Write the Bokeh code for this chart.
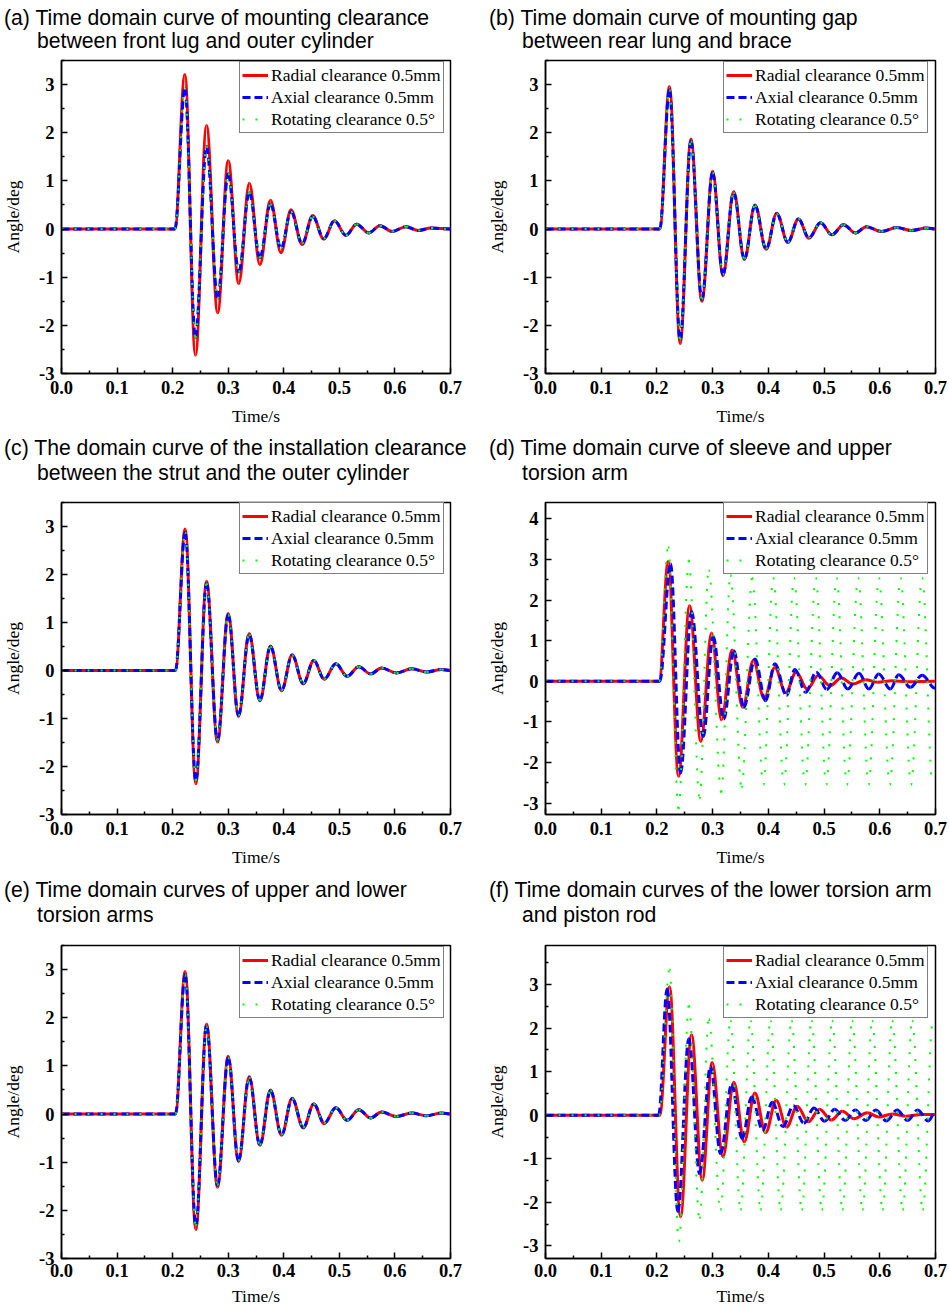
import numpy as np
from bokeh.plotting import figure
from bokeh.models import ColumnDataSource, FixedTicker, Legend, LegendItem, Div
from bokeh.layouts import column, row
from bokeh.embed import file_html
from bokeh.resources import INLINE

# ---------------- ticks / labels ----------------
x_ticks = [0.0, 0.1, 0.2, 0.3, 0.4, 0.5, 0.6, 0.7]
x_tick_labels = ["0.0", "0.1", "0.2", "0.3", "0.4", "0.5", "0.6", "0.7"]
y_ticks_std = [-3, -2, -1, 0, 1, 2, 3]
y_tick_labels_std = ["-3", "-2", "-1", "0", "1", "2", "3"]
y_ticks_d = [-3, -2, -1, 0, 1, 2, 3, 4]
y_tick_labels_d = ["-3", "-2", "-1", "0", "1", "2", "3", "4"]

series_names = ["Radial clearance 0.5mm", "Axial clearance 0.5mm", "Rotating clearance 0.5\u00b0"]

titles = [
    ("(a) Time domain curve of mounting clearance", "between front lug and outer cylinder"),
    ("(b) Time domain curve of mounting gap", "between rear lung and brace"),
    ("(c) The domain curve of the installation clearance", "between the strut and the outer cylinder"),
    ("(d) Time domain curve of sleeve and upper", "torsion arm"),
    ("(e) Time domain curves of upper and lower", "torsion arms"),
    ("(f) Time domain curves of the lower torsion arm", "and piston rod"),
]

# ---------------- data (turning points) ----------------
# Panel (a)
a_t = [0.0, 0.204, 0.222, 0.241, 0.261, 0.281, 0.300, 0.319, 0.338, 0.357, 0.376, 0.395, 0.413,
       0.433, 0.452, 0.472, 0.491, 0.512, 0.531, 0.553, 0.573, 0.595, 0.620, 0.642, 0.665, 0.700]
a_radial = [0.0, 0.0, 3.21, -2.62, 2.15, -1.74, 1.42, -1.13, 0.95, -0.74, 0.60, -0.49, 0.40,
            -0.32, 0.28, -0.21, 0.17, -0.13, 0.10, -0.08, 0.07, -0.05, 0.05, -0.03, 0.02, 0.0]
a_axial = [0.0, 0.0, 2.93, -2.26, 1.72, -1.44, 1.15, -0.89, 0.76, -0.59, 0.52, -0.40, 0.36,
           -0.30, 0.26, -0.20, 0.17, -0.13, 0.10, -0.08, 0.07, -0.05, 0.05, -0.03, 0.02, 0.0]
a_rotating = [0.0, 0.0, 2.93, -2.26, 1.72, -1.44, 1.15, -0.89, 0.76, -0.59, 0.52, -0.40, 0.36,
              -0.30, 0.26, -0.20, 0.17, -0.13, 0.10, -0.08, 0.07, -0.05, 0.05, -0.03, 0.02, 0.0]

# Panel (b)
b_t = [0.0, 0.205, 0.2225, 0.2417, 0.261, 0.2807, 0.300, 0.3185, 0.3377, 0.357, 0.376, 0.396, 0.415,
       0.435, 0.454, 0.4727, 0.4937, 0.514, 0.535, 0.556, 0.576, 0.603, 0.630, 0.657, 0.684, 0.700]
b_radial = [0.0, 0.0, 2.96, -2.38, 1.87, -1.50, 1.20, -0.97, 0.78, -0.63, 0.50, -0.42, 0.33,
            -0.28, 0.21, -0.19, 0.13, -0.12, 0.09, -0.08, 0.05, -0.05, 0.03, -0.03, 0.02, 0.0]
b_axial = [0.0, 0.0, 2.89, -2.30, 1.83, -1.46, 1.17, -0.95, 0.76, -0.62, 0.49, -0.41, 0.32,
           -0.27, 0.21, -0.18, 0.13, -0.12, 0.09, -0.08, 0.05, -0.05, 0.03, -0.03, 0.02, 0.0]
b_rotating = [0.0, 0.0, 2.89, -2.30, 1.83, -1.46, 1.17, -0.95, 0.76, -0.62, 0.49, -0.41, 0.32,
              -0.27, 0.21, -0.18, 0.13, -0.12, 0.09, -0.08, 0.05, -0.05, 0.03, -0.03, 0.02, 0.0]

# Panel (c)
c_t = [0.0, 0.205, 0.2225, 0.2417, 0.261, 0.2807, 0.300, 0.3185, 0.3377, 0.357, 0.376, 0.396, 0.415,
       0.435, 0.454, 0.4727, 0.4937, 0.514, 0.535, 0.556, 0.576, 0.603, 0.630, 0.657, 0.684, 0.700]
c_radial = [0.0, 0.0, 2.95, -2.36, 1.86, -1.49, 1.19, -0.96, 0.77, -0.63, 0.51, -0.42, 0.33,
            -0.28, 0.21, -0.18, 0.14, -0.12, 0.08, -0.07, 0.05, -0.05, 0.035, -0.03, 0.02, 0.0]
c_axial = [0.0, 0.0, 2.88, -2.29, 1.82, -1.45, 1.16, -0.94, 0.75, -0.62, 0.50, -0.41, 0.32,
           -0.27, 0.21, -0.18, 0.14, -0.12, 0.08, -0.07, 0.05, -0.05, 0.035, -0.03, 0.02, 0.0]
c_rotating = [0.0, 0.0, 2.88, -2.29, 1.82, -1.45, 1.16, -0.94, 0.75, -0.62, 0.50, -0.41, 0.32,
              -0.27, 0.21, -0.18, 0.14, -0.12, 0.08, -0.07, 0.05, -0.05, 0.035, -0.03, 0.02, 0.0]

# Panel (d)
d_t_radial = [0.0, 0.204, 0.2202, 0.2388, 0.2585, 0.2789, 0.298, 0.316, 0.335, 0.354, 0.373, 0.3926,
              0.4117, 0.431, 0.450, 0.4698, 0.4895, 0.5105, 0.531, 0.5518, 0.5745, 0.5955, 0.622,
              0.650, 0.700]
d_radial = [0.0, 0.0, 2.95, -2.34, 1.86, -1.48, 1.19, -0.95, 0.77, -0.64, 0.51, -0.43,
            0.34, -0.28, 0.22, -0.19, 0.14, -0.11, 0.08, -0.07, 0.04, -0.025, 0.01,
            -0.01, 0.0]
d_t_axial = [0.0, 0.205, 0.2244, 0.2424, 0.2621, 0.2831, 0.301, 0.320, 0.338, 0.356, 0.376, 0.395,
             0.4117, 0.4327, 0.4476, 0.4668, 0.486, 0.505, 0.5236, 0.5428, 0.5625, 0.5805, 0.598,
             0.619, 0.634, 0.655, 0.676, 0.699]
d_axial = [0.0, 0.0, 2.89, -2.26, 1.72, -1.36, 1.10, -0.93, 0.75, -0.64, 0.55, -0.48,
           0.43, -0.35, 0.29, -0.27, 0.22, -0.20, 0.21, -0.19, 0.20, -0.19, 0.18,
           -0.19, 0.16, -0.15, 0.15, -0.17]
d_t_rotating = [0.0, 0.204, 0.2202, 0.2388, 0.2573, 0.2765, 0.293, 0.3154, 0.332, 0.352, 0.371, 0.391,
                0.4088, 0.428, 0.446, 0.466, 0.485, 0.504, 0.5225, 0.541, 0.5613, 0.580, 0.5984,
                0.618, 0.6373, 0.656, 0.676, 0.695]
d_rotating = [0.0, 0.0, 3.31, -3.14, 2.97, -2.89, 2.74, -2.73, 2.62, -2.62, 2.55, -2.55,
              2.55, -2.55, 2.55, -2.55, 2.55, -2.55, 2.55, -2.55, 2.55, -2.55, 2.55,
              -2.55, 2.55, -2.55, 2.55, -2.55]

# Panel (e)
e_t = [0.0, 0.205, 0.2225, 0.2417, 0.261, 0.2807, 0.300, 0.3185, 0.3377, 0.357, 0.376, 0.396, 0.415,
       0.435, 0.454, 0.4727, 0.4937, 0.514, 0.535, 0.556, 0.576, 0.603, 0.630, 0.657, 0.684, 0.700]
e_radial = [0.0, 0.0, 2.96, -2.40, 1.87, -1.52, 1.20, -0.99, 0.78, -0.65, 0.50, -0.44, 0.33,
            -0.29, 0.21, -0.20, 0.13, -0.13, 0.09, -0.08, 0.04, -0.05, 0.02, -0.035, 0.02, 0.0]
e_axial = [0.0, 0.0, 2.89, -2.32, 1.83, -1.48, 1.17, -0.97, 0.76, -0.64, 0.49, -0.43, 0.32,
           -0.28, 0.21, -0.19, 0.13, -0.13, 0.09, -0.08, 0.04, -0.05, 0.02, -0.035, 0.02, 0.0]
e_rotating = [0.0, 0.0, 2.89, -2.32, 1.83, -1.48, 1.17, -0.97, 0.76, -0.64, 0.49, -0.43, 0.32,
              -0.28, 0.21, -0.19, 0.13, -0.13, 0.09, -0.08, 0.04, -0.05, 0.02, -0.035, 0.02, 0.0]

# Panel (f)
f_t_radial = [0.0, 0.205, 0.2226, 0.2424, 0.2621, 0.2813, 0.2992, 0.3184, 0.3381, 0.3567, 0.3758,
              0.395, 0.4141, 0.4327, 0.4518, 0.4716, 0.4919, 0.5129, 0.5326, 0.5536, 0.5775,
              0.5984, 0.6224, 0.646, 0.676, 0.700]
f_radial = [0.0, 0.0, 2.95, -2.33, 1.85, -1.49, 1.21, -0.95, 0.76, -0.61, 0.51,
            -0.40, 0.34, -0.27, 0.21, -0.15, 0.14, -0.11, 0.09, -0.08, 0.06,
            -0.04, 0.03, -0.02, 0.02, 0.015]
f_t_axial = [0.0, 0.203, 0.2184, 0.2376, 0.2573, 0.2765, 0.2962, 0.3142, 0.334, 0.3531, 0.370, 0.390,
             0.407, 0.426, 0.445, 0.464, 0.482, 0.501, 0.519, 0.538, 0.556, 0.575, 0.593, 0.612,
             0.631, 0.650, 0.668, 0.687, 0.700]
f_axial = [0.0, 0.0, 2.90, -2.21, 1.76, -1.34, 1.12, -0.88, 0.70, -0.53, 0.42, -0.34,
           0.30, -0.26, 0.22, -0.18, 0.17, -0.14, 0.14, -0.12, 0.12, -0.12, 0.12, -0.13,
           0.12, -0.12, 0.12, -0.13, 0.08]
f_t_rotating = [0.0, 0.204, 0.2226, 0.2394, 0.2573, 0.2765, 0.2932, 0.314, 0.332, 0.350, 0.368, 0.386,
                0.4039, 0.422, 0.4416, 0.460, 0.4775, 0.496, 0.5146, 0.533, 0.5505, 0.569, 0.5864,
                0.605, 0.6224, 0.641, 0.6583, 0.677, 0.6954]
f_rotating = [0.0, 0.0, 3.36, -2.90, 2.52, -2.37, 2.21, -2.18, 2.18, -2.18, 2.18, -2.18,
              2.18, -2.18, 2.18, -2.18, 2.18, -2.18, 2.18, -2.18, 2.18, -2.18, 2.18,
              -2.18, 2.18, -2.18, 2.18, -2.18, 2.18]

panels = [
    dict(y_range=(-3.0, 3.5), yt=y_ticks_std, ytl=y_tick_labels_std,
         series=[(a_t, a_radial), (a_t, a_axial), (a_t, a_rotating)]),
    dict(y_range=(-3.0, 3.5), yt=y_ticks_std, ytl=y_tick_labels_std,
         series=[(b_t, b_radial), (b_t, b_axial), (b_t, b_rotating)]),
    dict(y_range=(-3.0, 3.5), yt=y_ticks_std, ytl=y_tick_labels_std,
         series=[(c_t, c_radial), (c_t, c_axial), (c_t, c_rotating)]),
    dict(y_range=(-3.28, 4.4), yt=y_ticks_d, ytl=y_tick_labels_d,
         series=[(d_t_radial, d_radial), (d_t_axial, d_axial), (d_t_rotating, d_rotating)]),
    dict(y_range=(-3.0, 3.5), yt=y_ticks_std, ytl=y_tick_labels_std,
         series=[(e_t, e_radial), (e_t, e_axial), (e_t, e_rotating)]),
    dict(y_range=(-3.29, 3.9), yt=y_ticks_std, ytl=y_tick_labels_std,
         series=[(f_t_radial, f_radial), (f_t_axial, f_axial), (f_t_rotating, f_rotating)]),
]

# ---------------- styling ----------------
SERIF = "Liberation Serif"
COLORS = ["#FF0000", "#0000FF", "#00FF00"]
WIDTHS = [3, 3, 2]
DASHES = ["solid", "8 4", "2 11"]
K = 0.3642  # horizontal-tangent Bezier handle for a smooth half wave

# rows: title block height, title line height, title padding-top,
#       figure height, figure bottom border, x tick-label standoff, x axis-label standoff
ROWS = [(58, 23, 6, 374, 59, 7, 9),
        (68, 25, 3, 375, 61, 7, 9),
        (68, 25, 2, 366, 51, 5, 6)]
# columns: width, left border, right border, title padding-left
COLS = [(475, 60, 25, 4), (474, 70, 14, 14)]


def bezier_source(t, v):
    t = np.asarray(t, dtype=float)
    v = np.asarray(v, dtype=float)
    x0, x1 = t[:-1], t[1:]
    y0, y1 = v[:-1], v[1:]
    dx = x1 - x0
    return ColumnDataSource(dict(x0=x0, y0=y0, x1=x1, y1=y1,
                                 cx0=x0 + K * dx, cy0=y0, cx1=x1 - K * dx, cy1=y1))


def make_cell(i, pdef):
    th, lh, pt, fh, mbb, xls, xas = ROWS[i // 2]
    cw, mbl, mbr, pl = COLS[i % 2]
    line1, line2 = titles[i]
    html = (f'<div style="font-family:\'Liberation Sans\',Arial,sans-serif;font-size:21.2px;'
            f'line-height:{lh}px;color:#000;white-space:nowrap;margin:0;'
            f'padding:{pt}px 0 0 {pl}px;">{line1}<br>'
            f'<span style="padding-left:33px">{line2}</span></div>')
    title_div = Div(text=html, width=cw, height=th, margin=(0, 0, 0, 0))

    p = figure(width=cw, height=fh, x_range=(0.0, 0.7), y_range=pdef["y_range"],
               output_backend="svg", toolbar_location=None, title_location=None,
               min_border_left=mbl, min_border_right=mbr,
               min_border_top=2, min_border_bottom=mbb)
    p.grid.visible = False
    p.outline_line_color = "black"
    p.outline_line_width = 1.5
    p.outline_line_alpha = 1.0
    p.background_fill_color = "white"
    p.border_fill_color = "white"

    minor_x = [round(0.05 + 0.1 * k, 2) for k in range(7)]
    ylo, yhi = pdef["y_range"]
    minor_y = [k + 0.5 for k in range(-4, 5) if ylo <= k + 0.5 <= yhi]
    p.xaxis.ticker = FixedTicker(ticks=x_ticks, minor_ticks=minor_x)
    p.xaxis.major_label_overrides = {t: lab for t, lab in zip(x_ticks, x_tick_labels)}
    p.yaxis.ticker = FixedTicker(ticks=pdef["yt"], minor_ticks=minor_y)
    p.yaxis.major_label_overrides = {t: lab for t, lab in zip(pdef["yt"], pdef["ytl"])}
    p.xaxis.axis_label = "Time/s"
    p.yaxis.axis_label = "Angle/deg"
    for ax in (p.xaxis[0], p.yaxis[0]):
        ax.major_tick_in = 6
        ax.major_tick_out = 0
        ax.minor_tick_in = 3
        ax.minor_tick_out = 0
        ax.axis_line_width = 1.5
        ax.major_tick_line_width = 1.5
        ax.minor_tick_line_width = 1.5
        ax.axis_line_color = "black"
        ax.major_tick_line_color = "black"
        ax.minor_tick_line_color = "black"
        ax.major_label_text_font = SERIF
        ax.major_label_text_font_size = "18.5px"
        ax.major_label_text_font_style = "bold"
        ax.major_label_text_color = "black"
        ax.axis_label_text_font = SERIF
        ax.axis_label_text_font_size = "17.5px"
        ax.axis_label_text_font_style = "normal"
        ax.axis_label_text_color = "black"
    p.xaxis.major_label_standoff = xls
    p.xaxis.axis_label_standoff = xas
    p.yaxis.major_label_standoff = 7
    p.yaxis.axis_label_standoff = 13

    legend_renderers = []
    for (t, v), col, w, dash in zip(pdef["series"], COLORS, WIDTHS, DASHES):
        p.bezier(x0="x0", y0="y0", x1="x1", y1="y1", cx0="cx0", cy0="cy0",
                 cx1="cx1", cy1="cy1", source=bezier_source(t, v),
                 line_color=col, line_width=w, line_dash=dash)
        lr = p.line(x=[float("nan")], y=[float("nan")], line_color=col,
                    line_width=w, line_dash=dash)
        legend_renderers.append(lr)

    legend = Legend(items=[LegendItem(label=n, renderers=[r])
                           for n, r in zip(series_names, legend_renderers)],
                    location=(178, 240))
    legend.border_line_color = "black"
    legend.border_line_width = 1.5
    legend.background_fill_color = "white"
    legend.background_fill_alpha = 1.0
    legend.padding = 2
    legend.spacing = 0
    legend.margin = 0
    legend.glyph_width = 26
    legend.glyph_height = 22
    legend.label_height = 22
    legend.label_standoff = 3
    legend.label_text_font = SERIF
    legend.label_text_font_size = "17.5px"
    legend.label_text_color = "black"
    p.add_layout(legend, "center")
    return column(title_div, p, spacing=0)


cells = [make_cell(i, pd) for i, pd in enumerate(panels)]
layout = column(row(cells[0], cells[1], spacing=0),
                row(cells[2], cells[3], spacing=0),
                row(cells[4], cells[5], spacing=0), spacing=0)

with open("out.html", "w", encoding="utf-8") as fh:
    fh.write(file_html(layout, INLINE))
